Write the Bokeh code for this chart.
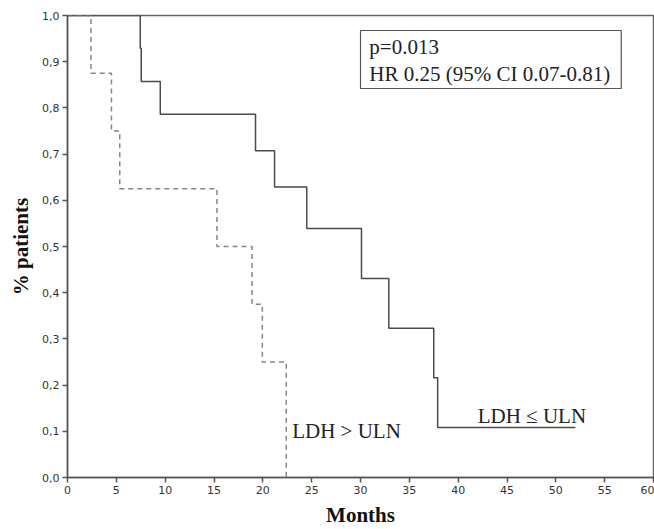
from bokeh.plotting import figure
from bokeh.models import Label, CustomJSTickFormatter, FixedTicker
from bokeh.embed import file_html
from bokeh.resources import INLINE

# Kaplan-Meier data
ldh_normal_months = [0, 7.45, 7.55, 9.5, 19.25, 21.2, 24.5, 30.1, 32.9, 37.5, 37.9, 52.0]
ldh_normal_surv = [1.0, 0.929, 0.857, 0.786, 0.707, 0.629, 0.539, 0.431, 0.323, 0.216, 0.108, 0.108]

ldh_high_months = [0, 2.4, 4.5, 5.35, 15.3, 18.9, 19.95, 22.4]
ldh_high_surv = [1.0, 0.875, 0.75, 0.625, 0.5, 0.375, 0.25, 0.0]

x_ticks = [0, 5, 10, 15, 20, 25, 30, 35, 40, 45, 50, 55, 60]
y_ticks = [0.0, 0.1, 0.2, 0.3, 0.4, 0.5, 0.6, 0.7, 0.8, 0.9, 1.0]

stats_lines = ["p=0.013", "HR 0.25 (95% CI 0.07-0.81)"]
label_high = "LDH > ULN"
label_normal = "LDH \u2264 ULN"
x_title = "Months"
y_title = "% patients"

SERIF = "Liberation Serif"
AX = "#555555"

p = figure(width=654, height=529, output_backend="svg", toolbar_location=None,
           x_range=(0, 60), y_range=(0, 1.0),
           min_border_left=67, min_border_right=1, min_border_top=15, min_border_bottom=52)
p.background_fill_color = "white"
p.border_fill_color = "white"
p.outline_line_color = "#666666"
p.outline_line_width = 1.5
p.grid.visible = False

for ax in (p.xaxis[0], p.yaxis[0]):
    ax.axis_line_color = AX
    ax.axis_line_width = 1.5
    ax.major_tick_line_color = AX
    ax.major_tick_line_width = 1.5
    ax.major_tick_out = 5
    ax.major_tick_in = 0
    ax.minor_tick_line_color = None
    ax.major_label_text_font = "DejaVu Sans"
    ax.major_label_text_font_size = "11px"
    ax.major_label_text_color = "#333333"
    ax.axis_label_text_font = SERIF
    ax.axis_label_text_font_style = "bold"
    ax.axis_label_text_font_size = "21px"
    ax.axis_label_text_color = "#111111"

p.xaxis.ticker = FixedTicker(ticks=x_ticks)
p.yaxis.ticker = FixedTicker(ticks=y_ticks)
p.yaxis.formatter = CustomJSTickFormatter(code="return tick.toFixed(1).replace('.', ',');")
p.xaxis.major_label_standoff = 3
p.yaxis.major_label_standoff = 3
p.xaxis.axis_label = x_title
p.xaxis.axis_label_standoff = 6
p.yaxis.axis_label = y_title
p.yaxis.axis_label_standoff = 6

p.step(ldh_normal_months, ldh_normal_surv, mode="after", line_color="#4a4a4a", line_width=1.5)
p.step(ldh_high_months, ldh_high_surv, mode="after", line_color="#858585", line_width=1.5,
       line_dash="5 4")

# statistics box
p.quad(left=[30.0], right=[56.7], bottom=[0.842], top=[0.9675],
       fill_color="white", line_color="#555555", line_width=1.2)
p.add_layout(Label(x=30.9, y=0.931, text=stats_lines[0], text_font=SERIF,
                   text_font_size="21px", text_color="#222222", text_baseline="alphabetic"))
p.add_layout(Label(x=30.9, y=0.874, text=stats_lines[1], text_font=SERIF,
                   text_font_size="21px", text_color="#222222", text_baseline="alphabetic"))

p.add_layout(Label(x=23.0, y=0.100, text=label_high, text_font=SERIF,
                   text_font_size="21px", text_color="#222222", text_baseline="alphabetic"))
p.add_layout(Label(x=42.0, y=0.134, text=label_normal, text_font=SERIF,
                   text_font_size="21px", text_color="#222222", text_baseline="alphabetic"))

open("out.html", "w").write(file_html(p, INLINE))
